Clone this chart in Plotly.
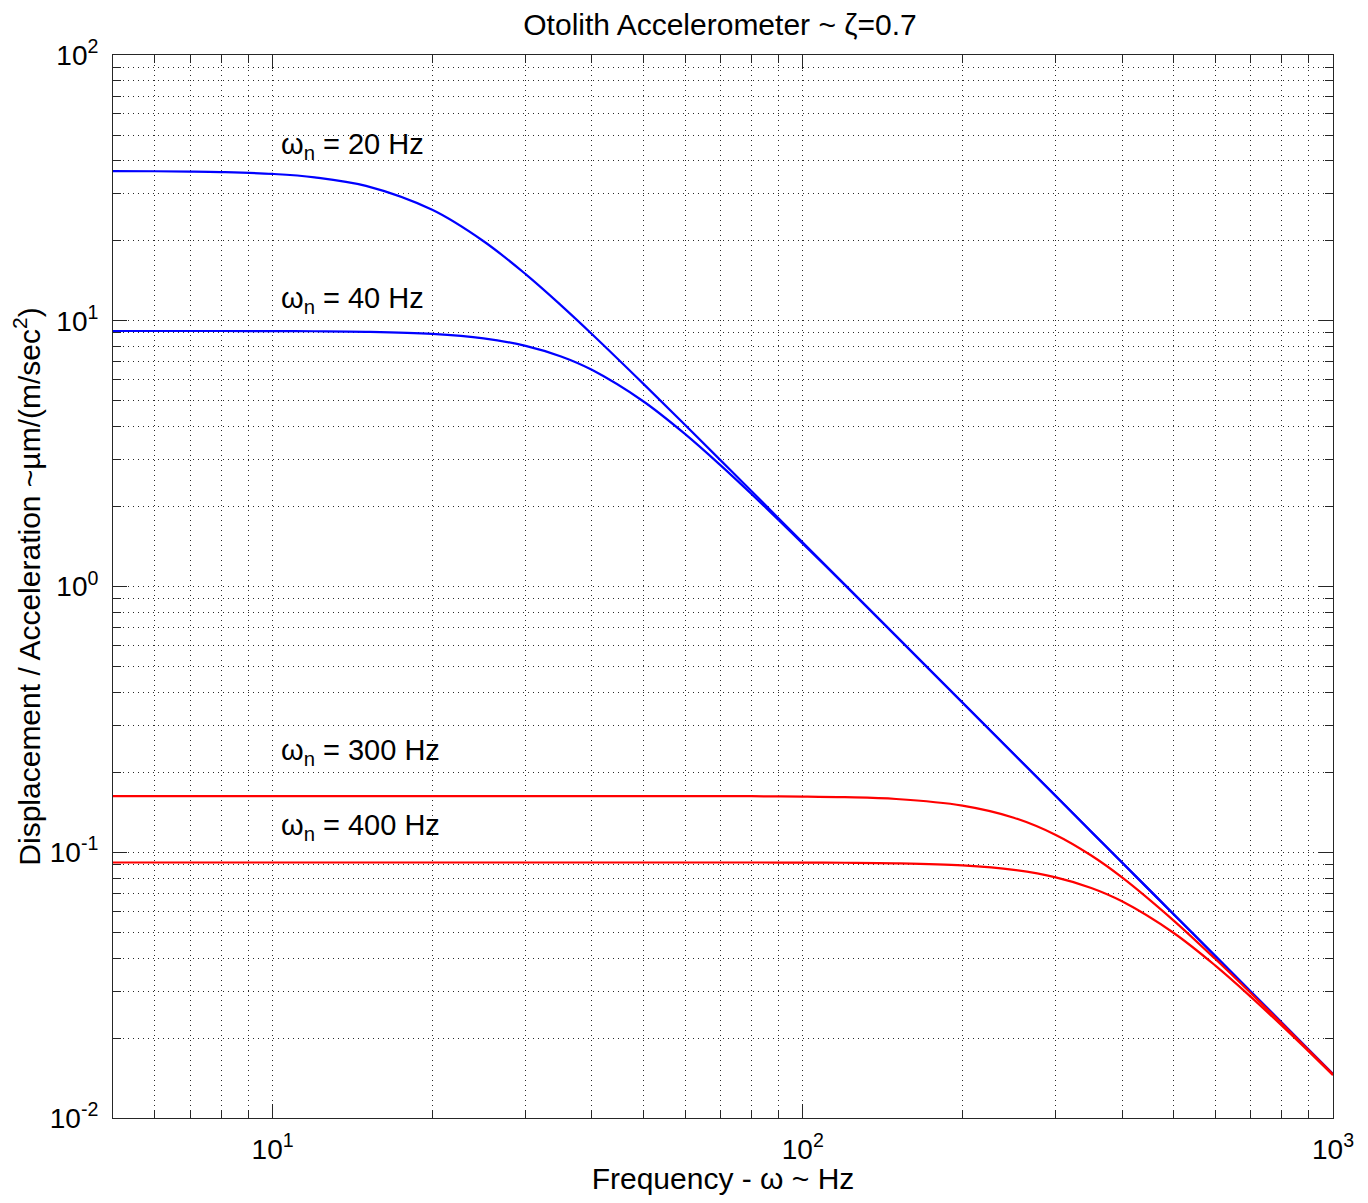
import math
import plotly.graph_objects as go

freq = [5, 6, 7, 8, 10, 12, 15, 20, 25, 30, 35, 40, 50, 60, 70, 80, 100, 120, 150,
        200, 250, 300, 350, 400, 500, 600, 700, 800, 900, 1000]

wn20 = [36.57, 36.52, 36.42, 36.25, 35.68, 34.66, 32.18, 26.14, 19.91, 14.98, 11.43,
        8.919, 5.801, 4.051, 2.983, 2.286, 1.464, 1.017, 0.6508, 0.3661, 0.2343,
        0.1627, 0.1195, 0.0915, 0.05856, 0.04067, 0.02988, 0.02288, 0.01807, 0.01464]

wn40 = [9.152, 9.152, 9.151, 9.150, 9.144, 9.129, 9.086, 8.919, 8.581, 8.044, 7.336,
        6.536, 4.978, 3.744, 2.857, 2.230, 1.450, 1.013, 0.6500, 0.3660, 0.2343,
        0.1627, 0.1195, 0.09151, 0.05857, 0.04067, 0.02988, 0.02288, 0.01807, 0.01464]

wn300 = [0.1627, 0.1627, 0.1627, 0.1627, 0.1627, 0.1627, 0.1627, 0.1627, 0.1627,
         0.1627, 0.1627, 0.1627, 0.1627, 0.1627, 0.1625, 0.1625, 0.1620, 0.1611,
         0.1586, 0.1498, 0.1349, 0.1162, 0.09725, 0.08044, 0.05545, 0.03964,
         0.02949, 0.02272, 0.01800, 0.01461]

wn400 = [0.0915, 0.0915, 0.0915, 0.0915, 0.0915, 0.0915, 0.0915, 0.0915, 0.0915,
         0.0915, 0.0915, 0.0915, 0.0915, 0.0915, 0.0915, 0.0915, 0.09144, 0.09129,
         0.09086, 0.08919, 0.08581, 0.08044, 0.07336, 0.06536, 0.04978, 0.03744,
         0.02857, 0.02230, 0.01780, 0.01450]

series = [("ω<sub>n</sub> = 20 Hz", wn20, "#0000ff"),
          ("ω<sub>n</sub> = 40 Hz", wn40, "#0000ff"),
          ("ω<sub>n</sub> = 300 Hz", wn300, "#ff0000"),
          ("ω<sub>n</sub> = 400 Hz", wn400, "#ff0000")]

label_pos = [(10.3, 45.5), (10.3, 12.0), (10.3, 0.238), (10.3, 0.1245)]

x_major = [10, 100, 1000]
x_major_text = ["10<sup>1</sup>", "10<sup>2</sup>", "10<sup>3</sup>"]
x_minor = [6, 7, 8, 9, 20, 30, 40, 50, 60, 70, 80, 90, 200, 300, 400, 500, 600, 700, 800, 900]
y_major = [0.01, 0.1, 1, 10, 100]
y_major_text = ["10<sup>-2</sup>", "10<sup>-1</sup>", "10<sup>0</sup>", "10<sup>1</sup>", "10<sup>2</sup>"]
y_minor = [m * d for d in [0.01, 0.1, 1, 10] for m in range(2, 10)]

FONT = "Liberation Sans, Arial, sans-serif"
AX = "#262626"
GRID = "#2a2a2a"
DASH = "1px,4px"

fig = go.Figure()
for name, vals, col in series:
    fig.add_trace(go.Scatter(x=freq, y=vals, mode="lines", name=name,
                             line=dict(color=col, width=2.2, shape="spline"),
                             showlegend=False))

for (name, _, _), (lx, ly) in zip(series, label_pos):
    fig.add_annotation(x=math.log10(lx), y=math.log10(ly), xref="x", yref="y",
                       text=name, showarrow=False, xanchor="left", yanchor="middle",
                       font=dict(family=FONT, size=29, color="black"))

axis_common = dict(type="log", showline=True, linecolor=AX, linewidth=1, mirror="allticks",
                   ticks="inside", ticklen=14, tickcolor=AX, tickwidth=1,
                   showgrid=True, gridcolor=GRID, griddash=DASH, gridwidth=1,
                   zeroline=False, automargin=False,
                   tickfont=dict(family=FONT, size=28, color="black"))

fig.update_xaxes(**axis_common, range=[math.log10(5), 3], tickmode="array",
                 tickvals=x_major, ticktext=x_major_text, ticklabelstandoff=6,
                 minor=dict(tickmode="array", tickvals=x_minor, ticks="inside", ticklen=8,
                            tickcolor=AX, showgrid=True, gridcolor=GRID, griddash=DASH,
                            gridwidth=1),
                 title=dict(text="Frequency - ω ~ Hz", font=dict(family=FONT, size=30, color="black"),
                            standoff=7))
fig.update_yaxes(**axis_common, range=[-2, 2], tickmode="array",
                 tickvals=y_major, ticktext=y_major_text, ticklabelstandoff=8,
                 minor=dict(tickmode="array", tickvals=y_minor, ticks="inside", ticklen=8,
                            tickcolor=AX, showgrid=True, gridcolor=GRID, griddash=DASH,
                            gridwidth=1),
                 title=dict(text="Displacement / Acceleration ~µm/(m/sec<sup>2</sup>)",
                            font=dict(family=FONT, size=30, color="black"), standoff=8))

fig.update_layout(width=1352, height=1187,
                  margin=dict(l=105, r=27, t=47, b=77),
                  paper_bgcolor="white", plot_bgcolor="white",
                  title=dict(text="Otolith Accelerometer ~ ζ=0.7", x=712 / 1352, xanchor="center",
                             y=1 - 16 / 1187, yanchor="middle",
                             font=dict(family=FONT, size=30, color="black")))

fig.write_html("out.html")
